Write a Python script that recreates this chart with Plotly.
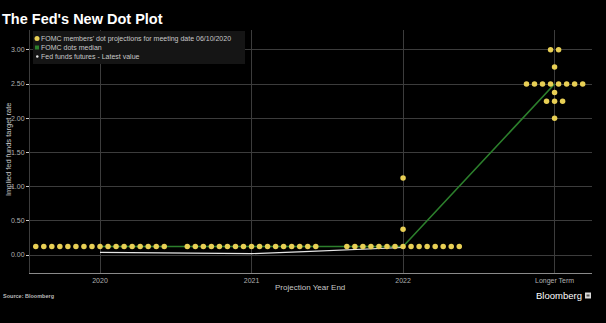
import plotly.graph_objects as go
from collections import Counter

# Projection periods and each FOMC participant's dot (percent)
categories = ["2020", "2021", "2022", "Longer Term"]
dots_2020 = [0.125] * 17
dots_2021 = [0.125] * 17
dots_2022 = [0.125] * 15 + [0.375, 1.125]
dots_longer = [3.0] * 2 + [2.75] + [2.5] * 8 + [2.375] + [2.25] * 3 + [2.0]
median_dots = [0.125, 0.125, 0.125, 2.5]

# Fed funds futures path (position along the projection axis, implied rate)
futures_pos = [0.0, 0.5, 1.0, 1.35, 1.7, 2.0]
futures_rate = [0.04, 0.03, 0.02, 0.05, 0.08, 0.11]

y_ticks = [0.0, 0.5, 1.0, 1.5, 2.0, 2.5, 3.0]

legend_labels = ["FOMC members' dot projections for meeting date 06/10/2020",
                 "FOMC dots median",
                 "Fed funds futures - Latest value"]

DOT_STEP = 0.053  # horizontal spacing between dots sharing a rate

def spread(index, values):
    xs, ys = [], []
    counts = Counter(values)
    for rate in sorted(counts):
        n = counts[rate]
        for k in range(n):
            xs.append(index + (k - (n - 1) / 2) * DOT_STEP)
            ys.append(rate)
    return xs, ys

all_x, all_y = [], []
for i, vals in enumerate([dots_2020, dots_2021, dots_2022, dots_longer]):
    xs, ys = spread(i, vals)
    all_x += xs
    all_y += ys

GOLD = "#e8cf55"
GREEN = "#2c7f2c"
WHITE = "#e6e6e6"

W, H = 606, 323
ML, MR, MT, MB = 30, 14, 30, 50
PW, PH = W - ML - MR, H - MT - MB

def px(x):  # pixel -> paper x
    return (x - ML) / PW

def py(y):  # pixel -> paper y
    return (H - MB - y) / PH

fig = go.Figure()

fig.add_trace(go.Scatter(
    x=list(range(len(categories))), y=median_dots, mode="lines",
    line=dict(color=GREEN, width=1.6), showlegend=False, hoverinfo="skip"))
fig.add_trace(go.Scatter(
    x=futures_pos, y=futures_rate, mode="lines",
    line=dict(color=WHITE, width=1.2), showlegend=False))
fig.add_trace(go.Scatter(
    x=all_x, y=all_y, mode="markers",
    marker=dict(color=GOLD, size=5.5, line=dict(width=0)), showlegend=False))

TICK_FONT = dict(family="Liberation Sans", size=7, color="#b0b0b0")
LABEL_FONT = dict(family="Liberation Sans", size=7.5, color="#c8c8c8")

fig.update_layout(
    width=W, height=H,
    paper_bgcolor="#000000", plot_bgcolor="#000000",
    margin=dict(l=ML, r=MR, t=MT, b=MB, autoexpand=False),
    font=dict(family="Liberation Sans", color="#cccccc"),
    showlegend=False,
    xaxis=dict(range=[-0.462, 3.247], tickvals=list(range(len(categories))),
               ticktext=categories, showgrid=True, gridcolor="#3c3c3c", gridwidth=1,
               zeroline=False, showline=True, linecolor="#8a8a8a", linewidth=1,
               ticks="", tickfont=TICK_FONT, automargin=False, ticklabelstandoff=1),
    yaxis=dict(range=[-0.263, 3.29], tickvals=y_ticks, tickformat=".2f",
               showgrid=True, gridcolor="#3c3c3c", gridwidth=1, zeroline=False,
               showline=True, linecolor="#3c3c3c", ticks="outside", ticklen=3,
               tickcolor="#cccccc", tickfont=TICK_FONT, automargin=False),
)

# Axis titles
fig.add_annotation(text="Projection Year End", xref="paper", yref="paper",
                   x=px(310), y=py(287), xanchor="center", yanchor="middle",
                   showarrow=False, borderpad=0,
                   font=dict(family="Liberation Sans", size=8, color="#c8c8c8"))
fig.add_annotation(text="Implied fed funds target rate", xref="paper", yref="paper",
                   x=px(8), y=py(150), xanchor="center", yanchor="middle",
                   textangle=-90, showarrow=False, borderpad=0, font=LABEL_FONT)

# Legend box drawn in paper space for a compact layout
fig.add_shape(type="rect", xref="paper", yref="paper", layer="above",
              x0=px(33), x1=px(245), y0=py(64), y1=py(31),
              fillcolor="#151515", line=dict(width=0))
legend_rows = [38.5, 47.5, 56.5]
# symbols: gold dot, green square, small white dot
fig.add_shape(type="circle", xref="paper", yref="paper", layer="above",
              x0=px(34.5), x1=px(39.5), y0=py(41), y1=py(36),
              fillcolor=GOLD, line=dict(width=0))
fig.add_shape(type="rect", xref="paper", yref="paper", layer="above",
              x0=px(35), x1=px(39), y0=py(49.5), y1=py(45.5),
              fillcolor=GREEN, line=dict(width=0))
fig.add_shape(type="circle", xref="paper", yref="paper", layer="above",
              x0=px(36), x1=px(38.5), y0=py(57.8), y1=py(55.3),
              fillcolor=WHITE, line=dict(width=0))
for label, row in zip(legend_labels, legend_rows):
    fig.add_annotation(text=label, xref="paper", yref="paper",
                       x=px(39.5), y=py(row), xanchor="left", yanchor="middle",
                       showarrow=False, borderpad=0,
                       font=dict(family="Liberation Sans", size=7, color="#c8c8c8"))

fig.add_annotation(text="<b>The Fed's New Dot Plot</b>", xref="paper", yref="paper",
                   x=px(1), y=py(19), xanchor="left", yanchor="middle",
                   showarrow=False, borderpad=0,
                   font=dict(family="Liberation Sans", size=14.5, color="#ffffff"))
fig.add_annotation(text="<b>Source: Bloomberg</b>", xref="paper", yref="paper",
                   x=px(2), y=py(296), xanchor="left", yanchor="middle",
                   showarrow=False, borderpad=0,
                   font=dict(family="Liberation Sans", size=5.5, color="#bbbbbb"))
fig.add_annotation(text="Bloomberg", xref="paper", yref="paper",
                   x=px(583), y=py(295.5), xanchor="right", yanchor="middle",
                   showarrow=False, borderpad=0,
                   font=dict(family="Liberation Sans", size=9.5, color="#ffffff"))
fig.add_shape(type="rect", xref="paper", yref="paper",
              x0=px(585), x1=px(591), y0=py(298.5), y1=py(292.5),
              fillcolor="#d8d8d8", line=dict(width=0))
fig.add_shape(type="rect", xref="paper", yref="paper",
              x0=px(586.5), x1=px(589.5), y0=py(296.5), y1=py(294.5),
              fillcolor="#555555", line=dict(width=0))

fig.write_html("out.html")
